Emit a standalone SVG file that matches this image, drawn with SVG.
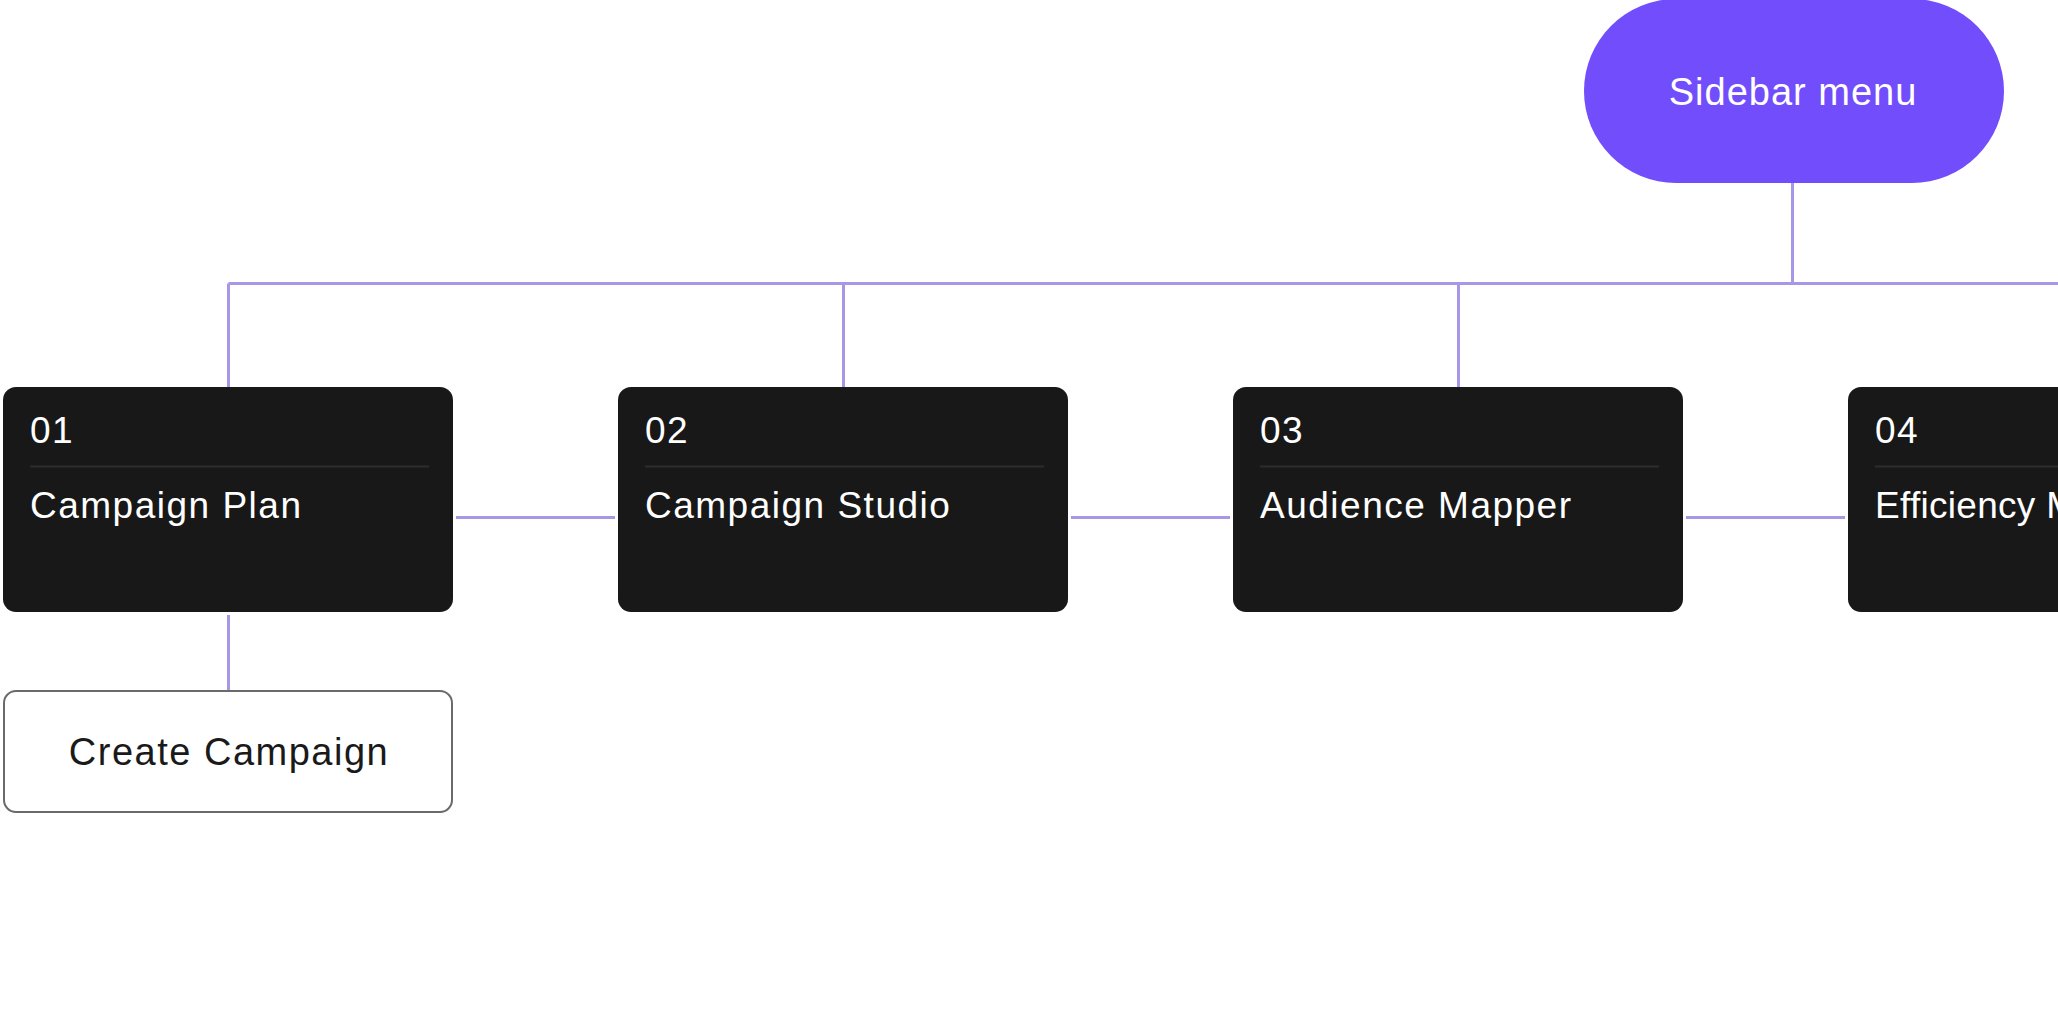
<svg xmlns="http://www.w3.org/2000/svg" width="2058" height="1014" viewBox="0 0 2058 1014">
<style>
.bg{fill:#ffffff}
.conn{stroke:#a897e6;stroke-width:3;fill:none}
.card{fill:#181818}
.sep{stroke:#2c2c2c;stroke-width:2}
.num,.title{font-family:"Liberation Sans",Arial,sans-serif;font-size:37px;fill:#ffffff;letter-spacing:1.5px}
.tight{letter-spacing:0.3px}
.pill{fill:#724dfc}
.pilltext{font-family:"Liberation Sans",Arial,sans-serif;font-size:38px;fill:#ffffff;text-anchor:middle;letter-spacing:1px}
.sub{fill:#ffffff;stroke:#6a6a6a;stroke-width:2}
.subtext{font-family:"Liberation Sans",Arial,sans-serif;font-size:38px;fill:#1a1a1a;text-anchor:middle;letter-spacing:1.5px}
</style>
<rect class="bg" x="0" y="0" width="2058" height="1014"/>
<g id="connectors">
<line class="conn" x1="1792.5" y1="182" x2="1792.5" y2="283.5"/>
<line class="conn" x1="228.5" y1="283.5" x2="2058" y2="283.5"/>
<line class="conn" x1="228.5" y1="283.5" x2="228.5" y2="387"/>
<line class="conn" x1="843.5" y1="283.5" x2="843.5" y2="387"/>
<line class="conn" x1="1458.5" y1="283.5" x2="1458.5" y2="387"/>
<line class="conn" x1="456" y1="517.5" x2="615" y2="517.5"/>
<line class="conn" x1="1071" y1="517.5" x2="1230" y2="517.5"/>
<line class="conn" x1="1686" y1="517.5" x2="1845" y2="517.5"/>
<line class="conn" x1="228.5" y1="615" x2="228.5" y2="691"/>
</g>
<g id="sidebar-menu">
<rect class="pill" x="1584" y="-1" width="420" height="184" rx="92"/>
<text class="pilltext" x="1793" y="105">Sidebar menu</text>
</g>
<g id="card-01">
<rect class="card" x="3" y="387" width="450" height="225" rx="13"/>
<text class="num" x="30" y="443">01</text>
<line class="sep" x1="30" y1="466.5" x2="429" y2="466.5"/>
<text class="title" x="30" y="518">Campaign Plan</text>
</g>
<g id="card-02">
<rect class="card" x="618" y="387" width="450" height="225" rx="13"/>
<text class="num" x="645" y="443">02</text>
<line class="sep" x1="645" y1="466.5" x2="1044" y2="466.5"/>
<text class="title" x="645" y="518">Campaign Studio</text>
</g>
<g id="card-03">
<rect class="card" x="1233" y="387" width="450" height="225" rx="13"/>
<text class="num" x="1260" y="443">03</text>
<line class="sep" x1="1260" y1="466.5" x2="1659" y2="466.5"/>
<text class="title" x="1260" y="518">Audience Mapper</text>
</g>
<g id="card-04">
<rect class="card" x="1848" y="387" width="450" height="225" rx="13"/>
<text class="num" x="1875" y="443">04</text>
<line class="sep" x1="1875" y1="466.5" x2="2274" y2="466.5"/>
<text class="title tight" x="1875" y="518">Efficiency M</text>
</g>
<g id="create-campaign">
<rect class="sub" x="4" y="691" width="448" height="121" rx="12"/>
<text class="subtext" x="229" y="765">Create Campaign</text>
</g>
</svg>
